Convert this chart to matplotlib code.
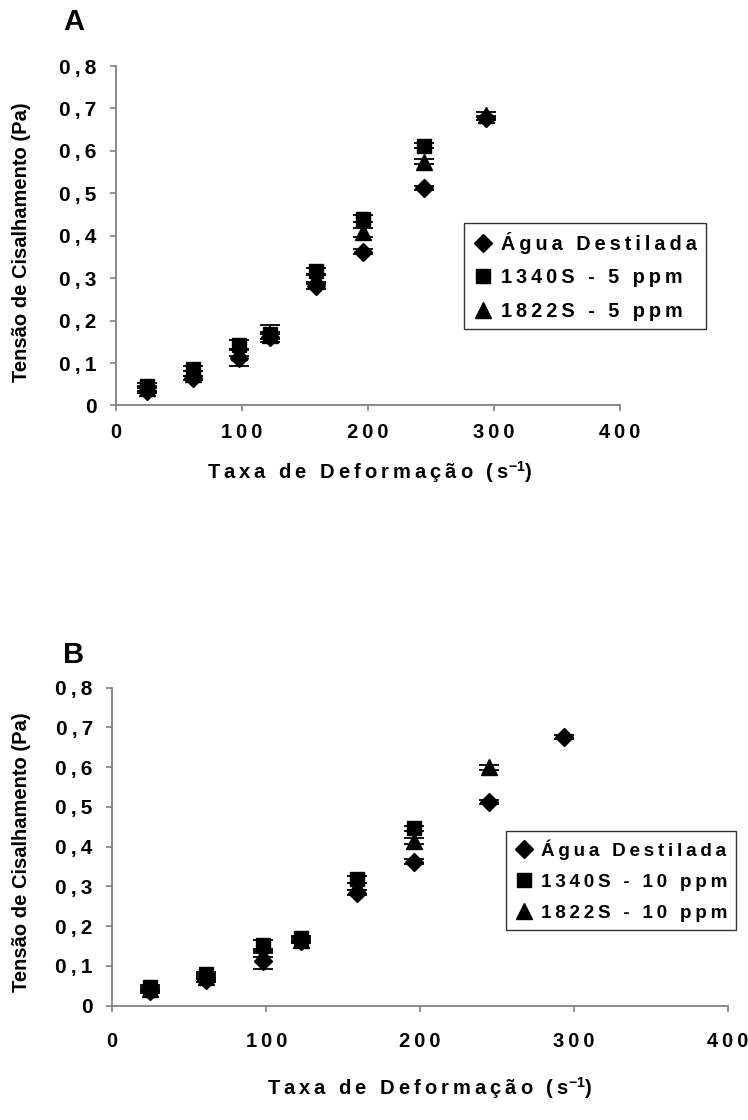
import numpy as np
import matplotlib
matplotlib.use("Agg")
import matplotlib.pyplot as plt

plt.rcParams['font.family'] = ['Liberation Sans', 'DejaVu Sans']
plt.rcParams['font.weight'] = 'bold'
plt.rcParams['mathtext.fontset'] = 'custom'
plt.rcParams['mathtext.rm'] = 'Liberation Sans:bold'
plt.rcParams['mathtext.bf'] = 'Liberation Sans:bold'

# taxa de deformacao (s-1)
taxa = [24.5, 61.2, 97.8, 122.3, 159.0, 195.7, 244.6, 293.5]

# painel A - 5 ppm
agua_a = [0.035, 0.064, 0.113, 0.162, 0.281, 0.362, 0.513, 0.678]
agua_a_err = [0.005, 0.005, 0.020, 0.006, 0.006, 0.006, 0.005, 0.005]
s1340_a = [0.046, 0.087, 0.143, 0.169, 0.317, 0.440, 0.612, np.nan]
s1340_a_err = [0.006, 0.006, 0.012, 0.020, 0.007, 0.008, 0.006, 0.0]
s1822_a = [0.040, 0.075, 0.125, 0.165, 0.300, 0.408, 0.575, 0.685]
s1822_a_err = [0.006, 0.006, 0.008, 0.008, 0.008, 0.010, 0.006, 0.006]

# painel B - 10 ppm
agua_b = [0.038, 0.066, 0.113, 0.163, 0.284, 0.362, 0.512, 0.676]
agua_b_err = [0.005, 0.005, 0.020, 0.006, 0.006, 0.006, 0.005, 0.006]
s1340_b = [0.046, 0.080, 0.154, 0.170, 0.318, 0.446, np.nan, np.nan]
s1340_b_err = [0.006, 0.006, 0.012, 0.006, 0.008, 0.006, 0.0, 0.0]
s1822_b = [0.042, 0.073, 0.130, 0.166, 0.300, 0.415, 0.600, np.nan]
s1822_b_err = [0.006, 0.006, 0.008, 0.006, 0.008, 0.008, 0.006, 0.0]

yticks = [0, 0.1, 0.2, 0.3, 0.4, 0.5, 0.6, 0.7, 0.8]
ytick_labels = ['0', '0,1', '0,2', '0,3', '0,4', '0,5', '0,6', '0,7', '0,8']
xticks = [0, 100, 200, 300, 400]


def spaced(s, sep='\u2009'):
    return sep.join(s)


fig = plt.figure(figsize=(7.48, 11.2), dpi=100)


def painel(rect, series, labels, xpad):
    ax = fig.add_axes(rect)
    markers = ['D', 's', '^']
    sizes = [9.5, 10, 11]
    for (y, e), m, ms, lab in zip(series, markers, sizes, labels):
        ax.errorbar(taxa, y, yerr=e, fmt=m, color='black', ms=ms, capsize=7,
                    elinewidth=1.3, capthick=1.3, label=spaced(lab), zorder=3)
    ax.set_xlim(0, 400)
    ax.set_ylim(0, 0.8)
    ax.set_xticks(xticks)
    ax.set_xticklabels([spaced(str(t)) for t in xticks])
    ax.set_yticks(yticks)
    ax.set_yticklabels([spaced(t) for t in ytick_labels])
    for s in ['top', 'right']:
        ax.spines[s].set_visible(False)
    for s in ['left', 'bottom']:
        ax.spines[s].set_color('#808080')
        ax.spines[s].set_linewidth(1.3)
    ax.tick_params(direction='out', length=4, width=1.2, color='#808080',
                   labelsize=15)
    ax.tick_params(axis='y', pad=10)
    ax.tick_params(axis='x', pad=xpad, labelsize=14.5)
    for t in ax.get_xticklabels() + ax.get_yticklabels():
        t.set_fontweight('bold')
    return ax


axA = painel([0.155, 0.638, 0.674, 0.303],
             [(agua_a, agua_a_err), (s1340_a, s1340_a_err), (s1822_a, s1822_a_err)],
             ['Água Destilada', '1340S - 5 ppm', '1822S - 5 ppm'], 9)
axB = painel([0.150, 0.102, 0.8235, 0.284],
             [(agua_b, agua_b_err), (s1340_b, s1340_b_err), (s1822_b, s1822_b_err)],
             ['Água Destilada', '1340S - 10 ppm', '1822S - 10 ppm'], 15)

for ax, anchor, fs in [(axA, (464 / 748, 1 - 223 / 1120), 14.3),
                       (axB, (506 / 748, 1 - 831 / 1120), 13.6)]:
    h, l = ax.get_legend_handles_labels()
    h = [x[0] for x in h]
    leg = ax.legend(h, l, loc='upper left', bbox_to_anchor=anchor,
                    bbox_transform=fig.transFigure, frameon=True, fancybox=False,
                    edgecolor='black', handlelength=1.0, handletextpad=0.4,
                    labelspacing=0.72, borderpad=0.45, borderaxespad=0,
                    prop={'weight': 'bold', 'size': fs})
    leg.get_frame().set_linewidth(1.0)

xlab = spaced('Taxa de Deformação (s') + r'$^{-1}$' + ')'
fig.text(370 / 748, 1 - 472 / 1120, xlab, ha='center', va='center', fontsize=14.5, fontweight='bold')
fig.text(430 / 748, 1 - 1088 / 1120, xlab, ha='center', va='center', fontsize=14.5, fontweight='bold')

ylab = 'Tensão de Cisalhamento (Pa)'
fig.text(22 / 748, 1 - 242 / 1120, ylab, rotation=90, ha='center', va='center', fontsize=14.5, fontweight='bold')
fig.text(22 / 748, 1 - 852 / 1120, ylab, rotation=90, ha='center', va='center', fontsize=14.5, fontweight='bold')

fig.text(74 / 748, 1 - 22 / 1120, 'A', ha='center', va='center', fontsize=21, fontweight='bold')
fig.text(74 / 748, 1 - 655 / 1120, 'B', ha='center', va='center', fontsize=21, fontweight='bold')

fig.savefig('out.png', dpi=100)
